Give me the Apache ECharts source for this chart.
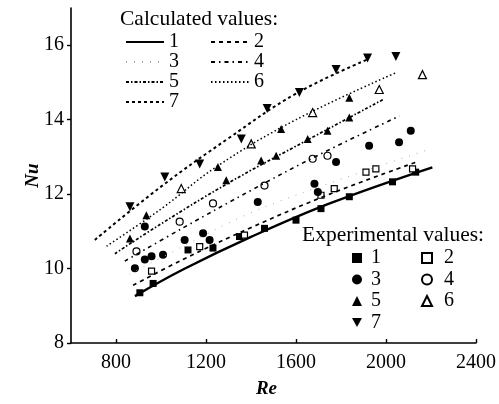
<!DOCTYPE html>
<html>
<head>
<meta charset="utf-8">
<script src="https://cdn.jsdelivr.net/npm/echarts@6/dist/echarts.min.js"></script>
<style>
html,body{margin:0;padding:0;background:#fff;}
#chart{width:499px;height:404px;}
</style>
</head>
<body>
<div id="chart"></div>
<script>
// ---- Data ----
var xTicks = [800, 1200, 1600, 2000, 2400];
var yTicks = [8, 10, 12, 14, 16];

// Calculated values (lines)
var calc1Re = [884, 1100, 1400, 1750, 2206];
var calc1Nu = [9.26, 9.98, 10.85, 11.75, 12.72];
var calc2Re = [876, 1100, 1400, 1750, 2130];
var calc2Nu = [9.55, 10.25, 11.1, 12.0, 12.85];
var calc3Re = [860, 1100, 1400, 1800, 2191];
var calc3Nu = [9.85, 10.6, 11.5, 12.4, 13.2];
var calc4Re = [839, 1100, 1400, 1700, 2060];
var calc4Nu = [10.2, 11.1, 12.1, 13.05, 14.1];
var calc5Re = [795, 1000, 1300, 1650, 1990];
var calc5Nu = [10.4, 11.2, 12.3, 13.45, 14.55];
var calc6Re = [758, 1000, 1250, 1600, 2044];
var calc6Nu = [10.6, 11.6, 12.75, 14.0, 15.26];
var calc7Re = [706, 1000, 1300, 1600, 1918];
var calc7Nu = [10.77, 12.2, 13.5, 14.7, 15.62];

// Experimental values (points)
var exp1Re = [906, 965, 1120, 1231, 1349, 1460, 1600, 1711, 1837, 2029, 2132];
var exp1Nu = [9.35, 9.6, 10.5, 10.55, 10.86, 11.08, 11.3, 11.61, 11.93, 12.33, 12.59];
var exp2Re = [958, 1172, 1371, 1711, 1770, 1911, 1955, 2118];
var exp2Nu = [9.93, 10.59, 10.9, 11.97, 12.15, 12.59, 12.68, 12.68];
var exp3Re = [884, 928, 928, 958, 1009, 1105, 1187, 1216, 1430, 1682, 1697, 1778, 1925, 2058, 2110];
var exp3Nu = [10.01, 10.24, 11.13, 10.33, 10.37, 10.77, 10.95, 10.77, 11.79, 12.28, 12.06, 12.86, 13.3, 13.39, 13.7];
var exp4Re = [891, 1083, 1231, 1460, 1674, 1740];
var exp4Nu = [10.46, 11.26, 11.75, 12.23, 12.95, 13.03];
var exp5Re = [862, 935, 1253, 1290, 1445, 1512, 1534, 1652, 1740, 1837, 1837];
var exp5Nu = [10.81, 11.43, 12.73, 12.37, 12.9, 13.03, 13.75, 13.48, 13.7, 14.06, 14.59];
var exp6Re = [1090, 1401, 1674, 1970, 2162];
var exp6Nu = [12.15, 13.35, 14.19, 14.81, 15.21];
var exp7Re = [862, 1017, 1172, 1357, 1472, 1615, 1778, 1918, 2044];
var exp7Nu = [11.66, 12.46, 12.81, 13.48, 14.3, 14.73, 15.35, 15.66, 15.7];

function pairs(xs, ys) { return xs.map(function (x, i) { return [x, ys[i]]; }); }

var FONT = 'Liberation Serif';
var lineDefs = [
  { name: 'c1', re: calc1Re, nu: calc1Nu, type: 'solid', width: 2.4, color: '#000' },
  { name: 'c2', re: calc2Re, nu: calc2Nu, type: [4, 4], width: 1.7, color: '#000' },
  { name: 'c3', re: calc3Re, nu: calc3Nu, type: [1, 7], width: 1, color: '#aaa' },
  { name: 'c4', re: calc4Re, nu: calc4Nu, type: [4, 4, 1.5, 4], width: 1.6, color: '#000' },
  { name: 'c5', re: calc5Re, nu: calc5Nu, type: [3, 2, 1.5, 2], width: 1.7, color: '#000' },
  { name: 'c6', re: calc6Re, nu: calc6Nu, type: [1.5, 2.5], width: 1.5, color: '#000' },
  { name: 'c7', re: calc7Re, nu: calc7Nu, type: [3, 3], width: 2, color: '#000' }
];
var downTri = 'path://M0,0L10,0L5,9Z';
var expDefs = [
  { name: 'e1', re: exp1Re, nu: exp1Nu, symbol: 'rect', size: 7, fill: '#000' },
  { name: 'e2', re: exp2Re, nu: exp2Nu, symbol: 'rect', size: 6, fill: '#fff' },
  { name: 'e3', re: exp3Re, nu: exp3Nu, symbol: 'circle', size: 8, fill: '#000' },
  { name: 'e4', re: exp4Re, nu: exp4Nu, symbol: 'circle', size: 7, fill: '#fff' },
  { name: 'e5', re: exp5Re, nu: exp5Nu, symbol: 'triangle', size: 8, fill: '#000' },
  { name: 'e6', re: exp6Re, nu: exp6Nu, symbol: 'triangle', size: 8, fill: '#fff' },
  { name: 'e7', re: exp7Re, nu: exp7Nu, symbol: downTri, size: 9, fill: '#000' }
];

var series = [];
lineDefs.forEach(function (d) {
  series.push({
    name: d.name, type: 'line', data: pairs(d.re, d.nu), smooth: 0.4,
    symbol: 'none', silent: true, animation: false,
    lineStyle: { color: d.color, width: d.width, type: d.type },
    itemStyle: { color: d.color }
  });
});
expDefs.forEach(function (d) {
  series.push({
    name: d.name, type: 'scatter', data: pairs(d.re, d.nu), symbol: d.symbol,
    symbolSize: d.size, animation: false,
    itemStyle: { color: d.fill, borderColor: '#000', borderWidth: d.fill === '#fff' ? 1.2 : 0, opacity: 1 }
  });
});

var labelFmt = function (n) { return n.replace(/\D/g, ''); };
function lineLegend(names, left, top) {
  return { data: names, orient: 'vertical', left: left, top: top, itemWidth: 38, itemHeight: 12,
    itemGap: 0, padding: 0, formatter: labelFmt,
    textStyle: { fontFamily: FONT, fontSize: 20, color: '#000', lineHeight: 20 },
    selectedMode: false, itemStyle: { opacity: 0 } };
}
function ptLegend(names, left, top, pad) {
  return { data: names, orient: 'vertical', left: left, top: top, itemWidth: 10, itemHeight: 10,
    itemGap: 1.5, padding: 0, formatter: labelFmt,
    textStyle: { fontFamily: FONT, fontSize: 20, color: '#000', lineHeight: 20, padding: [0, 0, 0, pad] },
    selectedMode: false };
}
var numFmt = function (v) { return String(v); };

var chart = echarts.init(document.getElementById('chart'), null, { renderer: 'canvas' });
chart.setOption({
  backgroundColor: '#fff',
  animation: false,
  title: [
    { text: 'Calculated values:', left: 120, top: 8, padding: 0,
      textStyle: { fontFamily: FONT, fontSize: 21.5, fontWeight: 'normal', color: '#000' } },
    { text: 'Experimental values:', left: 302, top: 224, padding: 0,
      textStyle: { fontFamily: FONT, fontSize: 21.5, fontWeight: 'normal', color: '#000' } }
  ],
  legend: [
    lineLegend(['c1', 'c3', 'c5', 'c7'], 125, 32),
    lineLegend(['c2', 'c4', 'c6'], 210, 32),
    ptLegend(['e1', 'e3', 'e5', 'e7'], 352, 248, 4),
    ptLegend(['e2', 'e4', 'e6'], 421, 248, 7)
  ],
  grid: { left: 71, right: 22, top: 8, bottom: 58, containLabel: false },
  xAxis: {
    type: 'value', min: 600, max: 2400,
    name: 'Re', nameLocation: 'middle', nameGap: 37, nameMoveOverlap: false,
    nameTextStyle: { fontFamily: FONT, fontSize: 19, fontStyle: 'italic', fontWeight: 'bold', color: '#000', padding: [0, 14, 0, 0] },
    axisLine: { show: true, onZero: false, lineStyle: { color: '#000', width: 1.6 } },
    axisTick: { show: true, inside: true, length: 4, customValues: xTicks, lineStyle: { color: '#000', width: 1.4 } },
    axisLabel: { customValues: xTicks, formatter: numFmt, margin: 10, fontFamily: FONT, fontSize: 20, color: '#000' },
    splitLine: { show: false }
  },
  yAxis: {
    type: 'value', min: 8, max: 17, interval: 2,
    name: 'Nu', nameLocation: 'middle', nameGap: 28, nameRotate: 90, nameMoveOverlap: false,
    nameTextStyle: { fontFamily: FONT, fontSize: 19, fontStyle: 'italic', fontWeight: 'bold', color: '#000' },
    axisLine: { show: true, onZero: false, lineStyle: { color: '#000', width: 1.6 } },
    axisTick: { show: true, inside: false, length: 4, customValues: yTicks, lineStyle: { color: '#000', width: 1.4 } },
    axisLabel: { customValues: yTicks, formatter: numFmt, margin: 7, fontFamily: FONT, fontSize: 20, color: '#000' },
    splitLine: { show: false }
  },
  series: series
});
</script>
</body>
</html>
